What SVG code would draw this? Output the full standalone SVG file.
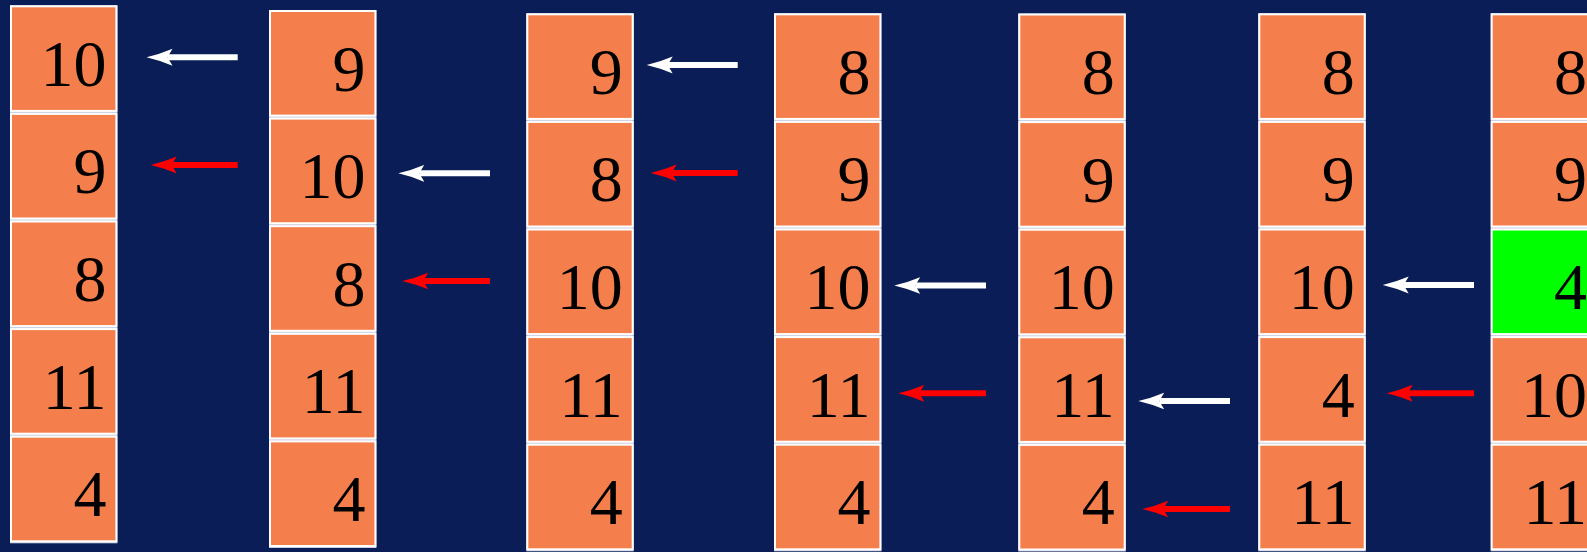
<svg xmlns="http://www.w3.org/2000/svg" width="1587" height="552" viewBox="0 0 1587 552">
<defs>
<style>
.bg{fill:#0a1d57}
.sep{fill:#c9cde0}
.box{fill:#f47e4c;stroke:#ffffff;stroke-width:2}
.hl{fill:#00ff00;stroke:#ffffff;stroke-width:2}
.num{font-family:"Liberation Serif","Times New Roman",serif;font-size:66px;fill:#000;text-anchor:end}
.aw{stroke:#ffffff;stroke-width:6;fill:none}
.ar{stroke:#ff0000;stroke-width:6;fill:none}
</style>
<marker id="hw" markerUnits="userSpaceOnUse" viewBox="0 -10 28 20" refX="5" refY="0" markerWidth="28" markerHeight="20" orient="auto">
<path d="M0,-8.5 Q13,-3 26,0 Q13,3 0,8.5 L5,0 Z" fill="#ffffff"/>
</marker>
<marker id="hr" markerUnits="userSpaceOnUse" viewBox="0 -10 28 20" refX="5" refY="0" markerWidth="28" markerHeight="20" orient="auto">
<path d="M0,-8.5 Q13,-3 26,0 Q13,3 0,8.5 L5,0 Z" fill="#ff0000"/>
</marker>
</defs>
<rect class="bg" x="0" y="0" width="1587" height="552"/>

<g id="col1">
<rect class="sep" x="10" y="5.3" width="107.4" height="538"/>
<g id="c1n1"><rect class="box" x="11" y="6.3" width="105.4" height="104.6"/><text class="num" x="106.4" y="85.8">10</text></g>
<g id="c1n2"><rect class="box" x="11" y="113.9" width="105.4" height="104.6"/><text class="num" x="106.4" y="193.4">9</text></g>
<g id="c1n3"><rect class="box" x="11" y="221.5" width="105.4" height="104.6"/><text class="num" x="106.4" y="301">8</text></g>
<g id="c1n4"><rect class="box" x="11" y="329.1" width="105.4" height="104.6"/><text class="num" x="106.4" y="408.6">11</text></g>
<g id="c1n5"><rect class="box" x="11" y="436.7" width="105.4" height="104.6"/><text class="num" x="106.4" y="516.2">4</text></g>
</g>

<g id="col2">
<rect class="sep" x="269" y="10" width="107.4" height="538"/>
<g id="c2n1"><rect class="box" x="270" y="11" width="105.4" height="104.6"/><text class="num" x="365.4" y="90.5">9</text></g>
<g id="c2n2"><rect class="box" x="270" y="118.6" width="105.4" height="104.6"/><text class="num" x="365.4" y="198.1">10</text></g>
<g id="c2n3"><rect class="box" x="270" y="226.2" width="105.4" height="104.6"/><text class="num" x="365.4" y="305.7">8</text></g>
<g id="c2n4"><rect class="box" x="270" y="333.8" width="105.4" height="104.6"/><text class="num" x="365.4" y="413.3">11</text></g>
<g id="c2n5"><rect class="box" x="270" y="441.4" width="105.4" height="104.6"/><text class="num" x="365.4" y="520.9">4</text></g>
</g>

<g id="col3">
<rect class="sep" x="526.3" y="13.3" width="107.4" height="538"/>
<g id="c3n1"><rect class="box" x="527.3" y="14.3" width="105.4" height="104.6"/><text class="num" x="622.7" y="93.8">9</text></g>
<g id="c3n2"><rect class="box" x="527.3" y="121.9" width="105.4" height="104.6"/><text class="num" x="622.7" y="201.4">8</text></g>
<g id="c3n3"><rect class="box" x="527.3" y="229.5" width="105.4" height="104.6"/><text class="num" x="622.7" y="309">10</text></g>
<g id="c3n4"><rect class="box" x="527.3" y="337.1" width="105.4" height="104.6"/><text class="num" x="622.7" y="416.6">11</text></g>
<g id="c3n5"><rect class="box" x="527.3" y="444.7" width="105.4" height="104.6"/><text class="num" x="622.7" y="524.2">4</text></g>
</g>

<g id="col4">
<rect class="sep" x="774" y="13.3" width="107.4" height="538"/>
<g id="c4n1"><rect class="box" x="775" y="14.3" width="105.4" height="104.6"/><text class="num" x="870.4" y="93.8">8</text></g>
<g id="c4n2"><rect class="box" x="775" y="121.9" width="105.4" height="104.6"/><text class="num" x="870.4" y="201.4">9</text></g>
<g id="c4n3"><rect class="box" x="775" y="229.5" width="105.4" height="104.6"/><text class="num" x="870.4" y="309">10</text></g>
<g id="c4n4"><rect class="box" x="775" y="337.1" width="105.4" height="104.6"/><text class="num" x="870.4" y="416.6">11</text></g>
<g id="c4n5"><rect class="box" x="775" y="444.7" width="105.4" height="104.6"/><text class="num" x="870.4" y="524.2">4</text></g>
</g>

<g id="col5">
<rect class="sep" x="1018.3" y="13.5" width="107.4" height="538"/>
<g id="c5n1"><rect class="box" x="1019.3" y="14.5" width="105.4" height="104.6"/><text class="num" x="1114.7" y="94">8</text></g>
<g id="c5n2"><rect class="box" x="1019.3" y="122.1" width="105.4" height="104.6"/><text class="num" x="1114.7" y="201.6">9</text></g>
<g id="c5n3"><rect class="box" x="1019.3" y="229.7" width="105.4" height="104.6"/><text class="num" x="1114.7" y="309.2">10</text></g>
<g id="c5n4"><rect class="box" x="1019.3" y="337.3" width="105.4" height="104.6"/><text class="num" x="1114.7" y="416.8">11</text></g>
<g id="c5n5"><rect class="box" x="1019.3" y="444.9" width="105.4" height="104.6"/><text class="num" x="1114.7" y="524.4">4</text></g>
</g>

<g id="col6">
<rect class="sep" x="1258.3" y="13.3" width="107.4" height="538"/>
<g id="c6n1"><rect class="box" x="1259.3" y="14.3" width="105.4" height="104.6"/><text class="num" x="1354.7" y="93.8">8</text></g>
<g id="c6n2"><rect class="box" x="1259.3" y="121.9" width="105.4" height="104.6"/><text class="num" x="1354.7" y="201.4">9</text></g>
<g id="c6n3"><rect class="box" x="1259.3" y="229.5" width="105.4" height="104.6"/><text class="num" x="1354.7" y="309">10</text></g>
<g id="c6n4"><rect class="box" x="1259.3" y="337.1" width="105.4" height="104.6"/><text class="num" x="1354.7" y="416.6">4</text></g>
<g id="c6n5"><rect class="box" x="1259.3" y="444.7" width="105.4" height="104.6"/><text class="num" x="1354.7" y="524.2">11</text></g>
</g>

<g id="col7">
<rect class="sep" x="1490.7" y="13.3" width="107.4" height="538"/>
<g id="c7n1"><rect class="box" x="1491.7" y="14.3" width="105.4" height="104.6"/><text class="num" x="1587.1" y="93.8">8</text></g>
<g id="c7n2"><rect class="box" x="1491.7" y="121.9" width="105.4" height="104.6"/><text class="num" x="1587.1" y="201.4">9</text></g>
<g id="c7n3"><rect class="hl" x="1491.7" y="229.5" width="105.4" height="104.6"/><text class="num" x="1587.1" y="309">4</text></g>
<g id="c7n4"><rect class="box" x="1491.7" y="337.1" width="105.4" height="104.6"/><text class="num" x="1587.1" y="416.6">10</text></g>
<g id="c7n5"><rect class="box" x="1491.7" y="444.7" width="105.4" height="104.6"/><text class="num" x="1587.1" y="524.2">11</text></g>
</g>

<g id="connectors">
<line class="aw" x1="237.7" y1="57.3" x2="167.5" y2="57.3" marker-end="url(#hw)"/>
<line class="ar" x1="237.7" y1="165" x2="171.7" y2="165" marker-end="url(#hr)"/>
<line class="aw" x1="490" y1="173.3" x2="419.3" y2="173.3" marker-end="url(#hw)"/>
<line class="ar" x1="490" y1="281" x2="423.3" y2="281" marker-end="url(#hr)"/>
<line class="aw" x1="737.7" y1="65" x2="667.7" y2="65" marker-end="url(#hw)"/>
<line class="ar" x1="737.7" y1="173" x2="671.7" y2="173" marker-end="url(#hr)"/>
<line class="aw" x1="986" y1="285.5" x2="915.3" y2="285.5" marker-end="url(#hw)"/>
<line class="ar" x1="986" y1="393.3" x2="919.3" y2="393.3" marker-end="url(#hr)"/>
<line class="aw" x1="1230" y1="401" x2="1159.3" y2="401" marker-end="url(#hw)"/>
<line class="ar" x1="1230" y1="509" x2="1163.3" y2="509" marker-end="url(#hr)"/>
<line class="aw" x1="1474" y1="285" x2="1403.7" y2="285" marker-end="url(#hw)"/>
<line class="ar" x1="1474" y1="393.3" x2="1407.7" y2="393.3" marker-end="url(#hr)"/>
</g>
</svg>
